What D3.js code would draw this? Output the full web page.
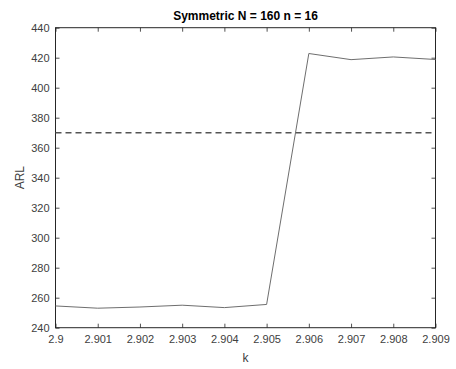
<!DOCTYPE html>
<html><head><meta charset="utf-8">
<script src="https://cdn.jsdelivr.net/npm/d3@7"></script>
<style>body{margin:0;background:#fff}svg{display:block}text{font-family:"Liberation Sans",Arial,sans-serif}</style>
</head><body>
<script>
const kValues = [2.900, 2.901, 2.902, 2.903, 2.904, 2.905, 2.906, 2.907, 2.908, 2.909];
const arlValues = [254.5, 253, 253.8, 255, 253.4, 255.5, 422.8, 418.7, 420.5, 418.8];
const referenceARL = 370;
const xTicks = [2.900, 2.901, 2.902, 2.903, 2.904, 2.905, 2.906, 2.907, 2.908, 2.909];
const xTickLabels = ["2.9", "2.901", "2.902", "2.903", "2.904", "2.905", "2.906", "2.907", "2.908", "2.909"];
const yTicks = [240, 260, 280, 300, 320, 340, 360, 380, 400, 420, 440];
const titleText = "Symmetric N = 160 n = 16";
const xLabel = "k", yLabel = "ARL";

const W = 456, H = 369;
const m = {left: 55.5, right: 456 - 435.5, top: 27.7, bottom: 369 - 327.7};
const svg = d3.select("body").append("svg").attr("width", W).attr("height", H);
const x = d3.scaleLinear().domain([2.9, 2.909]).range([m.left, W - m.right]);
const y = d3.scaleLinear().domain([240, 440]).range([H - m.bottom, m.top]);
const axisColor = "#262626", textColor = "#404040";

function styleAxis(g, labels) {
  g.select(".domain").remove();
  g.selectAll(".tick line").attr("stroke", axisColor).attr("stroke-width", 0.8);
  g.selectAll(".tick text").attr("fill", textColor).attr("font-size", 11);
  if (!labels) g.selectAll(".tick text").remove();
}
// bottom
svg.append("g").attr("transform", `translate(0,${y(240)})`)
  .call(d3.axisBottom(x).tickValues(xTicks).tickFormat((d,i)=>xTickLabels[i]).tickSizeInner(-4).tickPadding(8))
  .call(g=>styleAxis(g,true));
// top
svg.append("g").attr("transform", `translate(0,${y(440)})`)
  .call(d3.axisTop(x).tickValues(xTicks).tickSizeInner(-4))
  .call(g=>styleAxis(g,false));
// left
svg.append("g").attr("transform", `translate(${x(2.9)},0)`)
  .call(d3.axisLeft(y).tickValues(yTicks).tickSizeInner(-4).tickPadding(6))
  .call(g=>styleAxis(g,true));
// right
svg.append("g").attr("transform", `translate(${x(2.909)},0)`)
  .call(d3.axisRight(y).tickValues(yTicks).tickSizeInner(-4))
  .call(g=>styleAxis(g,false));

// box
svg.append("rect").attr("x", x(2.9)).attr("y", y(440))
  .attr("width", x(2.909) - x(2.9)).attr("height", y(240) - y(440))
  .attr("fill", "none").attr("stroke", axisColor).attr("stroke-width", 1);

// reference dashed line
svg.append("line").attr("x1", x(2.9)).attr("x2", x(2.909))
  .attr("y1", y(referenceARL)).attr("y2", y(referenceARL))
  .attr("stroke", "#555").attr("stroke-width", 1.4).attr("stroke-dasharray", "6,4");

// data line
svg.append("path").datum(kValues.map((k,i)=>[k, arlValues[i]]))
  .attr("fill", "none").attr("stroke", "#6e6e6e").attr("stroke-width", 1)
  .attr("d", d3.line().x(d=>x(d[0])).y(d=>y(d[1])));

// title
svg.append("text").attr("x", (x(2.9)+x(2.909))/2).attr("y", 20)
  .attr("text-anchor", "middle").attr("font-weight", "bold").attr("font-size", 12)
  .attr("fill", "#000").text(titleText);
// x label
svg.append("text").attr("x", (x(2.9)+x(2.909))/2).attr("y", 362)
  .attr("text-anchor", "middle").attr("font-size", 12).attr("fill", textColor).text(xLabel);
// y label
svg.append("text").attr("transform", `translate(24,${(y(240)+y(440))/2}) rotate(-90)`)
  .attr("text-anchor", "middle").attr("font-size", 12).attr("fill", textColor).text(yLabel);
</script>
</body></html>
